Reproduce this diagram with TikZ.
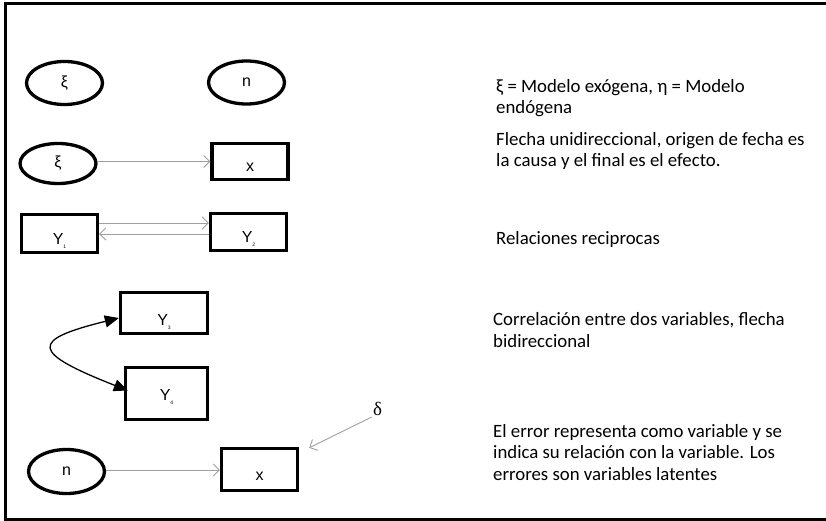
\documentclass[tikz,border=0pt]{standalone}
\usepackage{fontspec}
\setmainfont{Liberation Sans}
\newfontfamily\notefont{Carlito}
\newfontfamily\greekserif{Liberation Serif}
\usetikzlibrary{shapes.geometric,arrows.meta,calc}

% tiny, half hidden index under the Y
\newcommand{\vsub}[1]{{\fontsize{5}{5}\selectfont\raisebox{-4pt}{#1}}}

\begin{document}
\begin{tikzpicture}[x=1pt,y=-1pt,
    latent/.style={ellipse, draw, line width=3.3pt, minimum width=76pt, minimum height=43pt,
      inner sep=0pt, font=\fontsize{16}{18}\selectfont},
    observed/.style={rectangle, draw, line width=3.3pt, minimum width=76pt, minimum height=37pt,
      inner sep=0pt, text height=21pt, text depth=0pt, font=\fontsize{16}{18}\selectfont},
    thinarrow/.style={draw=gray!75, line width=0.9pt, -{Straight Barb[length=6pt,width=12pt]}},
    note/.style={anchor=base west, align=left, inner sep=0pt,
      font=\notefont\fontsize{18.8}{21.5}\selectfont}]

    \useasboundingbox (0,0) rectangle (826,521);
    \draw[line width=3pt] (840,4) -- (5,4) -- (5,519) -- (840,519);

    % symbols
    \node[latent] (xi1) at (64.5,83) {ξ};
    \node[latent] (eta1) at (246.5,82.5) {n};

    % one way path
    \node[latent, minimum height=40pt] (xi2) at (58,163.5) {ξ};
    \node[observed, minimum height=36pt] (x1) at (250,161.5) {x};
    \coordinate (p1) at ($(xi2.east)+(0,-2)$);
    \draw[thinarrow] (p1) -- (p1 -| x1.west);

    % reciprocal paths
    \node[observed, minimum height=38pt] (y1) at (59.5,233.5) {Y\vsub{1}};
    \node[observed] (y2) at (248.5,232) {Y\vsub{2}};
    \coordinate (r1) at ($(y1.east)+(0,-10.5)$);
    \coordinate (r2) at ($(y2.west)+(0,2)$);
    \draw[thinarrow] (r1) -- (r1 -| y2.west);
    \draw[thinarrow] (r2) -- (r2 -| y1.east);

    % correlation
    \node[observed, minimum width=87pt, minimum height=41pt, text height=24pt] (y3) at (164,313) {Y\vsub{3}};
    \node[observed, minimum width=82pt, minimum height=52pt, text height=14pt] (y4) at (166.5,393.5) {Y\vsub{4}};
    \draw[line width=1.3pt, {Triangle[length=14pt,width=12pt]}-{Triangle[length=14pt,width=12pt]}]
      ($(y3.west)+(0,5)$) .. controls (30,340) and (30,352) .. ($(y4.west)+(4,-3)$);

    % error term
    \node[latent, minimum height=44pt] (eta2) at (66.5,471.5) {n};
    \node[observed, minimum height=42pt] (x2) at (259.5,469.5) {x};
    \node[inner sep=1pt, font=\greekserif\fontsize{19}{21}\selectfont] (delta) at (377.5,409) {δ};
    \coordinate (err) at ($(x2.north east)+(10,1)$);
    \coordinate (p2) at ($(eta2.east)+(0,-1.5)$);
    \draw[thinarrow] (p2) -- (p2 -| x2.west);
    \draw[thinarrow] (delta.south west) -- (err);

    % explanations (base = last line)
    \begin{scope}
      \clip (480,60) rectangle (826,117);
      \node[note] (t1) at (496,114) {ξ = Modelo exógena, η = Modelo\\endógena};
    \end{scope}
    \node[note] (t2) at (496,167) {Flecha unidireccional, origen de fecha es\\la causa y el final es el efecto.};
    \begin{scope}
      \clip (480,220) rectangle (826,247);
      \node[note] (t3) at (496,244) {Relaciones reciprocas};
    \end{scope}
    \node[note] (t4) at (493,347) {Correlación entre dos variables, flecha\\bidireccional};
    \node[note] (t5) at (493,480) {El error representa como variable y se\\indica su relación con la variable. Los\\errores son variables latentes};
\end{tikzpicture}
\end{document}
